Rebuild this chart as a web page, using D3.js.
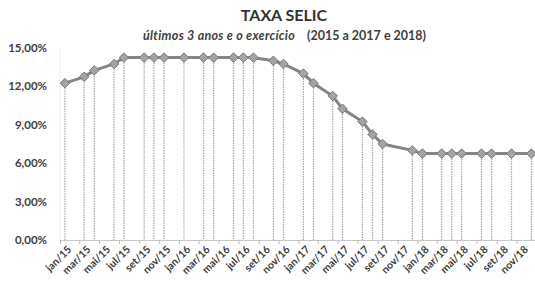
<!DOCTYPE html>
<html>
<head>
<meta charset="utf-8">
<script src="https://cdn.jsdelivr.net/npm/d3@7"></script>
<style>
  body { margin: 0; background: #fff; }
  svg { display: block; }
  text { font-family: Lato, "Open Sans", sans-serif; fill: #404040; }
</style>
</head>
<body>
<div id="chart"></div>
<script>
// months where the rate was plotted (yyyy-mm) and the rate in %
const months = [
  '2015-01', '2015-03', '2015-04', '2015-06', '2015-07', '2015-09', '2015-10', '2015-11',
  '2016-01', '2016-03', '2016-04', '2016-06', '2016-07', '2016-08', '2016-10', '2016-11',
  '2017-01', '2017-02', '2017-04', '2017-05', '2017-07', '2017-08', '2017-09', '2017-12',
  '2018-01', '2018-03', '2018-04', '2018-05', '2018-07', '2018-08', '2018-10', '2018-12'
]
const selic = [
  12.25, 12.75, 13.25, 13.75, 14.25, 14.25, 14.25, 14.25,
  14.25, 14.25, 14.25, 14.25, 14.25, 14.25, 14.00, 13.75,
  13.00, 12.25, 11.25, 10.25, 9.25, 8.25, 7.50, 7.00,
  6.75, 6.75, 6.75, 6.75, 6.75, 6.75, 6.75, 6.75
]
const monthNames = ['jan', 'fev', 'mar', 'abr', 'mai', 'jun', 'jul', 'ago', 'set', 'out', 'nov', 'dez']
const yTicks = [0, 3, 6, 9, 12, 15]

const width = 535, height = 285
const svg = d3.select('#chart').append('svg')
  .attr('width', width)
  .attr('height', height)

const parseMonth = s => {
  let [y, m] = s.split('-').map(Number)
  return new Date(Date.UTC(y, m - 1, 16)) // middle of the month
}
const data = months.map((m, i) => ({date: parseMonth(m), value: selic[i]}))

const x = d3.scaleUtc()
  .domain([new Date(Date.UTC(2015, 0, 1)), new Date(Date.UTC(2019, 0, 1))])
  .range([60, 536.6])
const y = d3.scaleLinear()
  .domain([0, 15])
  .range([240, 48])

// title
svg.append('text')
  .attr('x', 284).attr('y', 21)
  .attr('text-anchor', 'middle')
  .attr('font-size', 16).attr('font-weight', 700)
  .style('fill', '#333')
  .text('TAXA SELIC')
svg.append('text')
  .attr('x', 143).attr('y', 40)
  .attr('font-size', 12.5).attr('font-style', 'italic').attr('font-weight', 700)
  .attr('letter-spacing', 0.3)
  .text('últimos 3 anos e o exercício')
svg.append('text')
  .attr('x', 307).attr('y', 40)
  .attr('font-size', 12.5).attr('font-weight', 700)
  .text('(2015 a 2017 e 2018)')

// y axis (labels only, faint line)
svg.append('line')
  .attr('x1', 60).attr('x2', 60)
  .attr('y1', y(15)).attr('y2', y(0))
  .attr('stroke', '#e2e2e2')
  .attr('stroke-dasharray', '1,1')
svg.selectAll('.ylab')
  .data(yTicks)
  .join('text')
    .attr('class', 'ylab')
    .attr('x', 47)
    .attr('y', d => y(d))
    .attr('dy', '0.35em')
    .attr('text-anchor', 'end')
    .attr('font-size', 11.5).attr('font-weight', 700)
    .text(d => d3.format('.2f')(d).replace('.', ',') + '%')

// x axis
const tickDates = d3.utcMonth.every(2).range(x.domain()[0], x.domain()[1])
const xAxis = svg.append('g')
  .attr('transform', `translate(0,${y(0)})`)
  .call(d3.axisBottom(x)
    .tickValues(tickDates)
    .tickSize(4)
    .tickSizeOuter(0)
    .tickFormat(d => monthNames[d.getUTCMonth()] + '/' + String(d.getUTCFullYear()).slice(2)))
xAxis.select('.domain').attr('stroke', '#c8c8c8')
xAxis.selectAll('.tick line').attr('stroke', '#bbb')
xAxis.selectAll('.tick text')
  .attr('font-size', 10.5).attr('font-weight', 700)
  .attr('font-family', 'Lato, sans-serif')
  .style('fill', '#404040')
  .attr('text-anchor', 'end')
  .attr('transform', 'rotate(-45)')
  .attr('dx', '0')
  .attr('dy', '0.6em')
  .attr('y', 9)
  .attr('x', 1)

// drop lines
svg.append('g')
  .selectAll('line')
  .data(data)
  .join('line')
    .attr('x1', d => x(d.date)).attr('x2', d => x(d.date))
    .attr('y1', d => y(d.value)).attr('y2', y(0))
    .attr('stroke', '#a9a9a9')
    .attr('stroke-width', 1.2)
    .attr('stroke-dasharray', '1.5,1')

// line
svg.append('path')
  .datum(data)
  .attr('fill', 'none')
  .attr('stroke', '#858585')
  .attr('stroke-width', 3)
  .attr('d', d3.line().x(d => x(d.date)).y(d => y(d.value)))

// markers
const diamond = d3.symbol().type(d3.symbolDiamond2).size(58)
svg.append('g')
  .selectAll('path')
  .data(data)
  .join('path')
    .attr('transform', d => `translate(${x(d.date)},${y(d.value)})`)
    .attr('d', diamond)
    .attr('fill', '#a3a3a3')
    .attr('stroke', '#7a7a7a')
    .attr('stroke-width', 1)
</script>
</body>
</html>
